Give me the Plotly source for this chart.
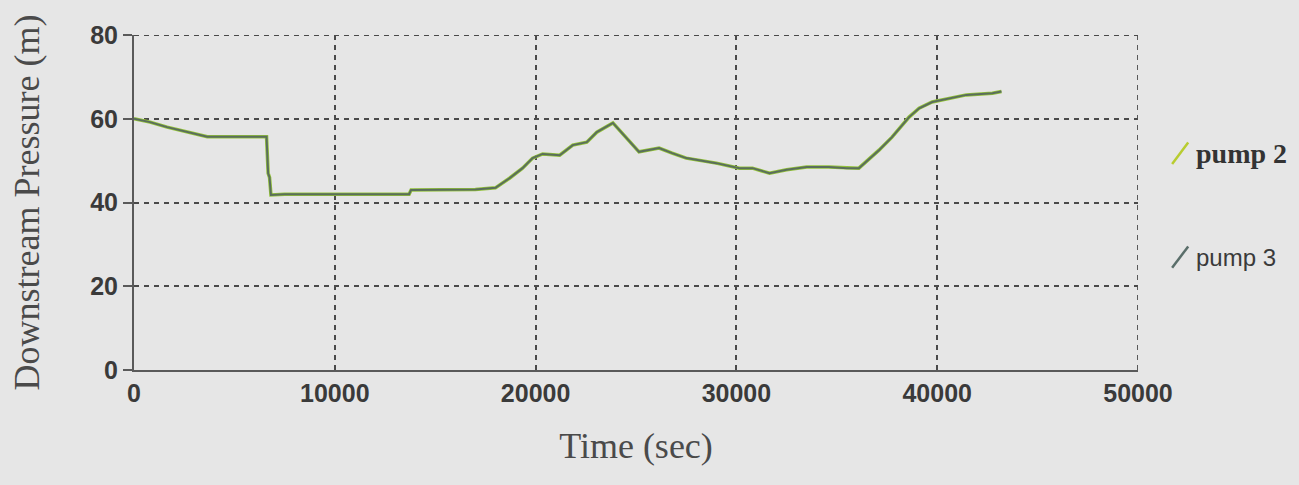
import plotly.graph_objects as go

# ---- data ----
time_s = [0, 800, 1650, 2650, 3650, 6600, 6680, 6750, 6820, 7500, 13700, 13800,
          17000, 18000, 18700, 19350, 19850, 20350, 21200, 21850, 22550, 23050,
          23850, 25150, 26150, 26800, 27500, 29000, 30150, 30800, 31650, 32500,
          33500, 34600, 35500, 36100, 37100, 37750, 38600, 39100, 39750, 41450,
          42750, 43200]
pump2 = [60.0, 59.2, 58.0, 56.8, 55.7, 55.7, 47.0, 46.0, 41.8, 42.0, 42.0, 43.0,
         43.1, 43.5, 45.8, 48.2, 50.6, 51.6, 51.3, 53.7, 54.4, 56.8,
         59.0, 52.1, 53.0, 51.8, 50.6, 49.4, 48.2, 48.2, 47.0, 47.8,
         48.5, 48.5, 48.2, 48.2, 52.5, 55.6, 60.4, 62.5, 64.0, 65.7,
         66.1, 66.5]
pump3 = [60.0, 59.2, 58.0, 56.8, 55.7, 55.7, 47.0, 46.0, 41.8, 42.0, 42.0, 43.0,
         43.1, 43.5, 45.8, 48.2, 50.6, 51.6, 51.3, 53.7, 54.4, 56.8,
         59.0, 52.1, 53.0, 51.8, 50.6, 49.4, 48.2, 48.2, 47.0, 47.8,
         48.5, 48.5, 48.2, 48.2, 52.5, 55.6, 60.4, 62.5, 64.0, 65.7,
         66.1, 66.5]
series_names = ["pump 2", "pump 3"]
x_ticks = [0, 10000, 20000, 30000, 40000, 50000]
y_ticks = [0, 20, 40, 60, 80]
x_range = [0, 50000]
y_range = [0, 80]

BG = "#e6e6e6"
GRID = "#4a4a4a"
TXT = "#3a3a3a"
C2 = "#93c23a"
C3 = "#5a6e5c"
DASH = "5px,5px"

fig = go.Figure()
fig.add_trace(go.Scatter(x=time_s, y=pump2, mode="lines", name=series_names[0],
                         line=dict(color=C2, width=3.5), showlegend=False))
fig.add_trace(go.Scatter(x=time_s, y=pump3, mode="lines", name=series_names[1],
                         line=dict(color=C3, width=2), showlegend=False))

tick_font = dict(family="Liberation Sans, Arial", size=25, color=TXT, weight="bold")
title_font = dict(family="Liberation Serif, Times New Roman, serif", size=36, color="#4a4a4a")

fig.update_xaxes(range=x_range, tickvals=x_ticks, ticktext=[str(v) for v in x_ticks],
                 showgrid=True, gridcolor=GRID, gridwidth=1.8, griddash=DASH,
                 zeroline=False, showline=True, linecolor="#5a5a5a", linewidth=2,
                 ticks="", tickfont=tick_font,
                 title=dict(text="Time (sec)", font=title_font, standoff=27))
fig.update_yaxes(range=y_range, tickvals=y_ticks, ticktext=[str(v) for v in y_ticks],
                 showgrid=True, gridcolor=GRID, gridwidth=1.8, griddash=DASH,
                 zeroline=False, showline=True, linecolor="#5a5a5a", linewidth=2,
                 ticks="outside", ticklen=9, tickwidth=1.5, tickcolor="#5a5a5a",
                 tickfont=tick_font,
                 title=dict(text="Downstream Pressure (m)", font=title_font, standoff=40))

# dashed frame on top and right edges (as in the reference)
fig.add_shape(type="line", xref="paper", yref="y", x0=0, x1=1, y0=y_range[1], y1=y_range[1],
              line=dict(color=GRID, width=1.8, dash=DASH))
fig.add_shape(type="line", xref="x", yref="paper", x0=x_range[1], x1=x_range[1], y0=0, y1=1,
              line=dict(color=GRID, width=1.8, dash=DASH))

# legend drawn as slash marks + labels to the right of the plot
legend_items = [
    dict(name=series_names[0], color="#b8cc30", y=0.647,
         font=dict(family="Liberation Serif, Times New Roman, serif", size=28, color="#333333", weight="bold")),
    dict(name=series_names[1], color="#5a6e6a", y=0.337,
         font=dict(family="Liberation Sans, Arial", size=24, color="#3a3a3a")),
]
for it in legend_items:
    fig.add_shape(type="line", xref="paper", yref="paper",
                  x0=1.034, x1=1.050, y0=it["y"] - 0.032, y1=it["y"] + 0.032,
                  line=dict(color=it["color"], width=2.5))
    fig.add_annotation(xref="paper", yref="paper", x=1.056, y=it["y"], text=it["name"],
                       showarrow=False, xanchor="left", yanchor="middle", font=it["font"])

fig.update_layout(width=1299, height=485, paper_bgcolor=BG, plot_bgcolor=BG,
                  margin=dict(l=134, r=161, t=35, b=115), showlegend=False)

fig.write_html("out.html")
